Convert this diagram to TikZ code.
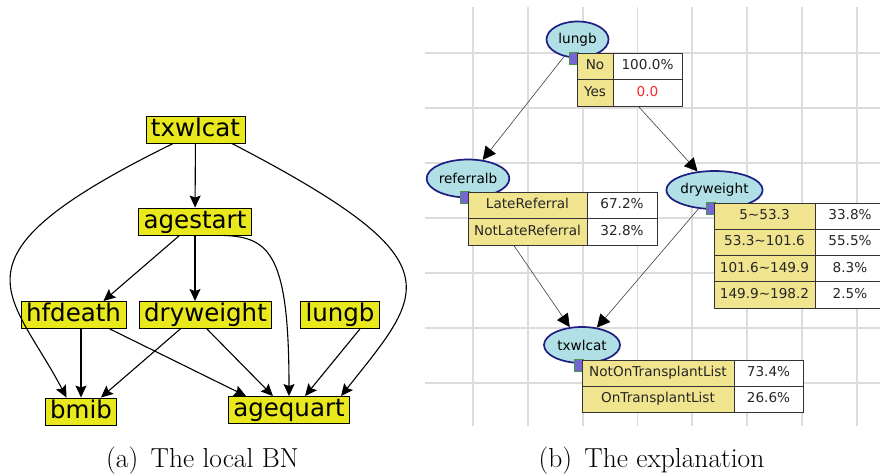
\documentclass[tikz,border=0pt]{standalone}
\usepackage{fontspec}
\usepackage{xcolor}
\usepackage{tikz}
\usetikzlibrary{arrows.meta,positioning,shapes.geometric}
\newfontfamily\dejavu{DejaVu Sans}
\definecolor{bnyellow}{RGB}{232,232,28}
\definecolor{xblue}{RGB}{176,224,230}
\definecolor{xborder}{RGB}{30,30,130}
\definecolor{xkhaki}{RGB}{240,228,142}
\definecolor{xpurple}{RGB}{118,102,212}
\definecolor{xgreen}{RGB}{70,150,70}
\definecolor{gridgray}{RGB}{220,220,220}
\definecolor{xred}{RGB}{250,40,40}

\begin{document}
\begin{tikzpicture}[x=1pt,y=1pt,
                    bnnode/.style={draw=black, line width=0.9pt, fill=bnyellow,
                                   inner xsep=5pt, inner ysep=2pt,
                                   text height=18pt, text depth=5pt,
                                   font=\fontsize{24.5}{28}\dejavu},
                    bnedge/.style={line width=1.1pt,
                                   -{Stealth[length=12pt,width=11pt,inset=2pt]}},
                    xnode/.style={ellipse, draw=xborder, line width=1.7pt, fill=xblue,
                                  inner sep=0pt, font=\fontsize{13.6}{16}\dejavu},
                    xlink/.style={draw=black!75, line width=0.6pt,
                                  -{Triangle[length=13pt,width=13pt,color=black]}},
                    xicon/.style={draw=xgreen, line width=0.6pt, fill=xpurple,
                                  minimum width=9pt, minimum height=12pt,
                                  inner sep=0pt, anchor=north west},
                    xstate/.style={draw=black!80, line width=0.8pt, fill=xkhaki,
                                   inner sep=0pt, outer sep=0pt, minimum height=26.5pt,
                                   text height=9.8pt, text depth=2.6pt, text=black!85,
                                   anchor=north west, font=\fontsize{13.6}{16}\dejavu},
                    xprob/.style={xstate, fill=white},
                    subcap/.style={anchor=base, font=\fontsize{27.5}{32}\selectfont}]
\useasboundingbox (0,0) rectangle (880,-475);
\clip (0,0) rectangle (880,-475);

% (a) the local BN
\node[bnnode] (txw) at (195.5,-129.5) {txwlcat};
\node[bnnode] (age) at (195,-221.5)   {agestart};
\node[bnnode] (hfd) at (73.5,-315)    {hfdeath};
\node[bnnode] (dry) at (205.5,-315)   {dryweight};
\node[bnnode] (lun) at (340,-315)     {lungb};
\node[bnnode] (bmi) at (81,-411.5)    {bmib};
\node[bnnode] (agq) at (289,-410)     {agequart};
\draw[bnedge] (txw) -- (age);
\draw[bnedge] (txw.-148) .. controls (-60,-258) and (10,-290) .. (bmi.136);
\draw[bnedge] (txw.-21) .. controls (460,-262) and (425,-290) .. (agq.15);
\draw[bnedge] (age.-138) -- (hfd.25);
\draw[bnedge] (age.south) -- (age.south |- dry.north);
\draw[bnedge] (age.-26) .. controls (270,-237) and (289,-255) .. (agq.north);
\draw[bnedge] (bmi.north |- hfd.south) -- (bmi.north);
\draw[bnedge] (hfd.-21) -- (agq.162);
\draw[bnedge] (dry.-151) -- (bmi.35);
\draw[bnedge] (dry.-84) -- (agq.139);
\draw[bnedge] (lun.-35) -- (agq.41);
\node[subcap] (capA) at (202.5,-467) {(a)\hspace{0.45em}The local BN};

% (b) the explanation
\foreach \gx in {473,527.8,582.6,637.4,692.2,747,801.8,856.6}
  \draw[gridgray, line width=1.8pt] (\gx,-7) -- (\gx,-426);
\foreach \gy in {53,108,163,218,273,328,383}
  \draw[gridgray, line width=1.8pt] (425,-\gy) -- (880,-\gy);

\node[xnode, minimum width=62pt, minimum height=36pt] (xlungb)      at (577.5,-39.5) {lungb};
\node[xnode, minimum width=82pt, minimum height=38pt] (xreferralb)  at (468,-178.5)  {referralb};
\node[xnode, minimum width=93pt, minimum height=38pt] (xdryweight)  at (714.5,-190)  {dryweight};
\node[xnode, minimum width=76pt, minimum height=36pt] (xtxwlcat)    at (582,-345)    {txwlcat};
\draw[xlink] (xlungb) -- (xreferralb);
\draw[xlink] (xlungb) -- (xdryweight);
\draw[xlink] (xreferralb) -- (xtxwlcat);
\draw[xlink] (xdryweight) -- (xtxwlcat);

\node[xicon] (xlungbI)     at (569,-52)  {};
\node[xicon] (xreferralbI) at (460,-191) {};
\node[xicon] (xdryweightI) at (706,-202) {};
\node[xicon] (xtxwlcatI)   at (574,-359) {};

% lungb
\node[xstate, minimum width=36pt] (xlungbS1) at (577,-53) {No};
\node[xprob,  minimum width=69pt, right=0pt of xlungbS1] (xlungbP1) {100.0\%};
\node[xstate, minimum width=36pt, below=0pt of xlungbS1] (xlungbS2) {Yes};
\node[xprob,  minimum width=69pt, right=0pt of xlungbS2] (xlungbP2) {\textcolor{xred}{0.0}};
% referralb
\node[xstate, minimum width=119pt] (xreferralbS1) at (468,-192) {LateReferral};
\node[xprob,  minimum width=70pt, right=0pt of xreferralbS1] (xreferralbP1) {67.2\%};
\node[xstate, minimum width=119pt, below=0pt of xreferralbS1] (xreferralbS2) {NotLateReferral};
\node[xprob,  minimum width=70pt, right=0pt of xreferralbS2] (xreferralbP2) {32.8\%};
% dryweight
\node[xstate, minimum width=101pt, minimum height=26.25pt] (xdryweightS1) at (714,-203) {5\textasciitilde 53.3};
\node[xprob,  minimum width=70pt, minimum height=26.25pt, right=0pt of xdryweightS1] (xdryweightP1) {33.8\%};
\node[xstate, minimum width=101pt, minimum height=26.25pt, below=0pt of xdryweightS1] (xdryweightS2) {53.3\textasciitilde 101.6};
\node[xprob,  minimum width=70pt, minimum height=26.25pt, right=0pt of xdryweightS2] (xdryweightP2) {55.5\%};
\node[xstate, minimum width=101pt, minimum height=26.25pt, below=0pt of xdryweightS2] (xdryweightS3) {101.6\textasciitilde 149.9};
\node[xprob,  minimum width=70pt, minimum height=26.25pt, right=0pt of xdryweightS3] (xdryweightP3) {8.3\%};
\node[xstate, minimum width=101pt, minimum height=26.25pt, below=0pt of xdryweightS3] (xdryweightS4) {149.9\textasciitilde 198.2};
\node[xprob,  minimum width=70pt, minimum height=26.25pt, right=0pt of xdryweightS4] (xdryweightP4) {2.5\%};
% txwlcat
\node[xstate, minimum width=152pt, minimum height=26pt] (xtxwlcatS1) at (582,-360) {NotOnTransplantList};
\node[xprob,  minimum width=69pt, minimum height=26pt, right=0pt of xtxwlcatS1] (xtxwlcatP1) {73.4\%};
\node[xstate, minimum width=152pt, minimum height=26pt, below=0pt of xtxwlcatS1] (xtxwlcatS2) {OnTransplantList};
\node[xprob,  minimum width=69pt, minimum height=26pt, right=0pt of xtxwlcatS2] (xtxwlcatP2) {26.6\%};

\node[subcap] (capB) at (651.5,-467) {(b)\hspace{0.45em}The explanation};
\end{tikzpicture}
\end{document}
